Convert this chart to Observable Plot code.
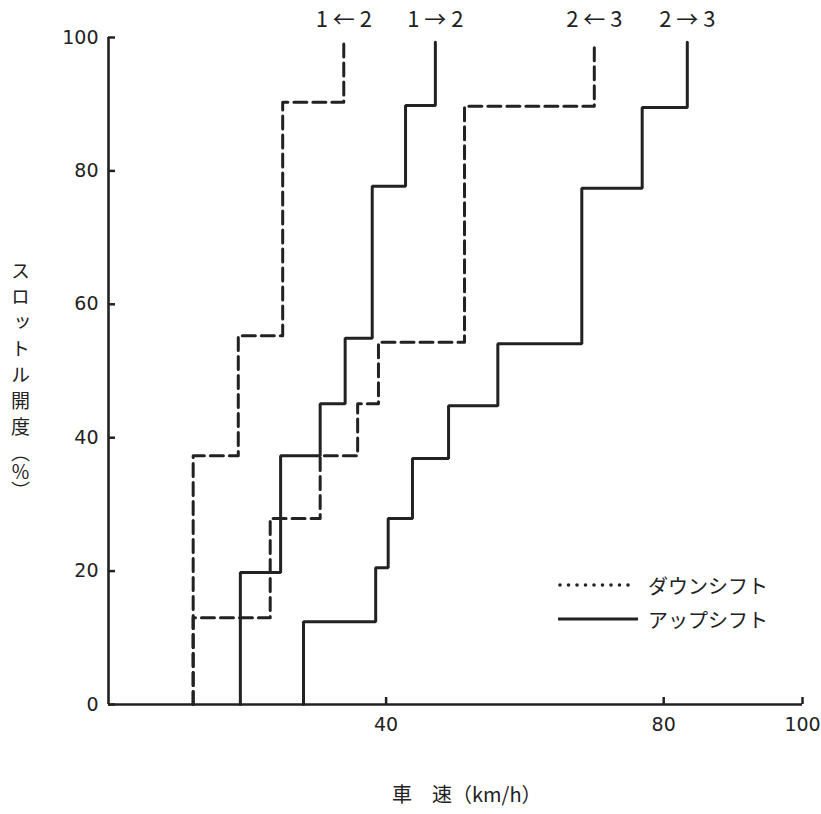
<!DOCTYPE html>
<html>
<head>
<meta charset="utf-8">
<script src="https://cdn.jsdelivr.net/npm/d3@7"></script>
<script src="https://cdn.jsdelivr.net/npm/@observablehq/plot@0.6"></script>
<style>
  html, body { margin: 0; padding: 0; background: #fff; }
  #wrap { position: relative; width: 821px; height: 814px; }
  .jp { font-family: "Noto Sans CJK JP", sans-serif; color: #222; }
  #ylab { position: absolute; left: 11px; top: 261px; writing-mode: vertical-rl; font-size: 19px; line-height: 1; }
  #ylab .main { letter-spacing: 7px; }
  #xlab { position: absolute; left: 392px; top: 784px; font-size: 20px; line-height: 1; white-space: pre; }
  #legend { position: absolute; left: 556px; top: 568px; }
  .legrow { display: flex; align-items: center; height: 34px; font-size: 20px; }
  .legrow svg { margin-right: 8px; }
</style>
</head>
<body>
<div id="wrap"></div>
<script>
// ---- data ----
const seriesNames = ["1 ← 2", "2 ← 3", "1 → 2", "2 → 3"];
const seriesKinds = ["down", "down", "up", "up"];
// speed (km/h) of each vertical segment, and throttle (%) at the top of that segment
const down12Speed    = [12.2, 18.7, 25.1, 33.9];
const down12Throttle = [37.3, 55.3, 90.3, 99.3];
const down23Speed    = [12.2, 23.3, 30.5, 35.9, 38.9, 51.3, 70.0];
const down23Throttle = [13.0, 27.9, 37.3, 45.1, 54.3, 89.7, 99.3];
const up12Speed      = [19.0, 24.8, 30.5, 34.1, 38.0, 42.8, 47.1];
const up12Throttle   = [19.8, 37.3, 45.1, 54.9, 77.7, 89.8, 99.3];
const up23Speed      = [28.1, 38.5, 40.3, 43.8, 49.0, 56.1, 68.2, 76.9, 83.4];
const up23Throttle   = [12.4, 20.5, 27.9, 36.9, 44.8, 54.1, 77.4, 89.5, 99.3];
const yTicks = [0, 20, 40, 60, 80, 100];
const xTicks = [40, 80, 100];
const xLabel = "車　速（km/h）";
const yLabelMain = "スロットル開度";
const yLabelUnit = "（％）";
const legendLabels = ["ダウンシフト", "アップシフト"];

// ---- build step vertices ----
function stepPath(name, kind, speeds, throttles) {
  const pts = [{series: name, kind, x: speeds[0], y: 0}];
  for (let i = 0; i < speeds.length; i++) {
    pts.push({series: name, kind, x: speeds[i], y: throttles[i]});
    if (i + 1 < speeds.length) pts.push({series: name, kind, x: speeds[i + 1], y: throttles[i]});
  }
  return pts;
}
const allSpeeds = [down12Speed, down23Speed, up12Speed, up23Speed];
const allThrottles = [down12Throttle, down23Throttle, up12Throttle, up23Throttle];
const paths = seriesNames.map((n, i) => stepPath(n, seriesKinds[i], allSpeeds[i], allThrottles[i]));
const downPts = paths.filter((p, i) => seriesKinds[i] === "down").flat();
const upPts = paths.filter((p, i) => seriesKinds[i] === "up").flat();
const tops = paths.map(p => p[p.length - 1]);

const ink = "#222";
const numFont = "'DejaVu Sans', sans-serif";

const chart = Plot.plot({
  width: 821,
  height: 814,
  marginLeft: 108,
  marginRight: 19,
  marginTop: 37,
  marginBottom: 110,
  style: {background: "#fff", color: ink, fontFamily: numFont},
  x: {domain: [0, 100]},
  y: {domain: [0, 100]},
  marks: [
    // tick labels
    Plot.axisY({ticks: yTicks, tickSize: 0, tickPadding: 10, label: null, fontSize: 19}),
    Plot.axisX({ticks: xTicks, tickSize: 0, tickPadding: 13, label: null, fontSize: 19}),
    // inward ticks
    Plot.axisY({ticks: yTicks, tickSize: -7, text: null, label: null, strokeWidth: 2.5}),
    Plot.axisX({ticks: xTicks, tickSize: -7, text: null, label: null, strokeWidth: 2.5}),
    // axis lines
    Plot.ruleX([0], {y1: 0, y2: 100, stroke: ink, strokeWidth: 2.6}),
    Plot.ruleY([0], {x1: 0, x2: 100, stroke: ink, strokeWidth: 2.6}),
    // shift lines
    Plot.line(downPts, {x: "x", y: "y", z: "series", stroke: ink, strokeWidth: 3,
      strokeDasharray: "13,6", strokeLinejoin: "round"}),
    Plot.line(upPts, {x: "x", y: "y", z: "series", stroke: ink, strokeWidth: 3,
      strokeLinejoin: "miter"}),
    // series labels
    Plot.text(tops, {x: "x", y: "y", text: "series", dy: -22, fontSize: 22, fill: ink,
      fontFamily: "'Noto Sans CJK JP', sans-serif"})
  ]
});

const wrap = document.getElementById("wrap");
wrap.appendChild(chart);

const ylab = document.createElement("div");
ylab.id = "ylab"; ylab.className = "jp";
ylab.innerHTML = `<span class="main">${yLabelMain}</span><span>${yLabelUnit}</span>`;
wrap.appendChild(ylab);

const xlab = document.createElement("div");
xlab.id = "xlab"; xlab.className = "jp";
xlab.textContent = xLabel;
wrap.appendChild(xlab);

const legend = document.createElement("div");
legend.id = "legend"; legend.className = "jp";
legend.innerHTML = `
  <div class="legrow"><svg width="84" height="10"><line x1="4" y1="5" x2="80" y2="5" stroke="${ink}" stroke-width="3.6" stroke-linecap="round" stroke-dasharray="0,8.5"/></svg><span>${legendLabels[0]}</span></div>
  <div class="legrow"><svg width="84" height="10"><line x1="2" y1="5" x2="82" y2="5" stroke="${ink}" stroke-width="3"/></svg><span>${legendLabels[1]}</span></div>`;
wrap.appendChild(legend);
</script>
</body>
</html>
